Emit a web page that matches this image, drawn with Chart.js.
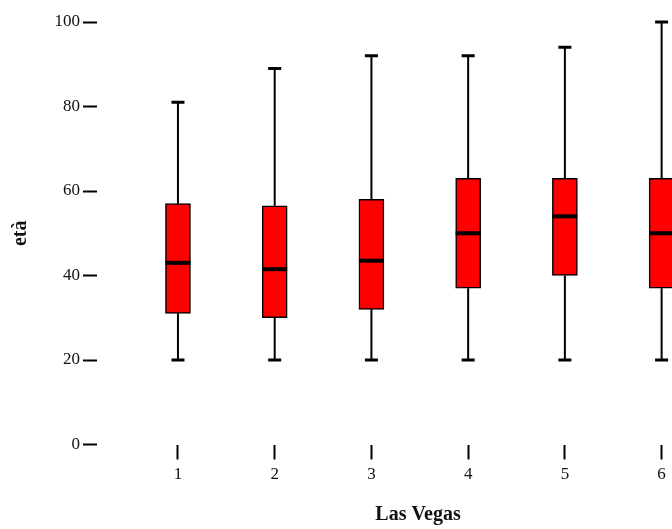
<!DOCTYPE html>
<html>
<head>
<meta charset="utf-8">
<script src="https://cdn.jsdelivr.net/npm/chart.js@4/dist/chart.umd.min.js"></script>
<style>
  html, body { margin: 0; padding: 0; background: #fff; overflow: hidden; }
  #clip { width: 672px; height: 529px; overflow: hidden; }
  #wrap { width: 739px; height: 529px; }
</style>
</head>
<body>
<div id="clip"><div id="wrap"><canvas id="myChart"></canvas></div></div>
<script>
const categories = [1, 2, 3, 4, 5, 6];
const lowWhisker = [20, 20, 20, 20, 20, 20];
const q1 = [31, 30, 32, 37, 40, 37];
const median = [43, 41.5, 43.5, 50, 54, 50];
const q3 = [57, 56.5, 58, 63, 63, 63];
const highWhisker = [81, 89, 92, 92, 94, 100];
const yTicks = [0, 20, 40, 60, 80, 100];

const BOX_W = 25;

// whiskers, caps and median lines drawn on top of the floating bars
const boxWhiskers = {
  id: 'boxWhiskers',
  afterDatasetsDraw(chart) {
    const { ctx, scales: { x, y } } = chart;
    ctx.save();
    ctx.strokeStyle = '#000';
    categories.forEach((c, i) => {
      const px = x.getPixelForValue(c);
      ctx.lineWidth = 2;
      ctx.beginPath();
      ctx.moveTo(px, y.getPixelForValue(q3[i]));
      ctx.lineTo(px, y.getPixelForValue(highWhisker[i]));
      ctx.moveTo(px, y.getPixelForValue(q1[i]));
      ctx.lineTo(px, y.getPixelForValue(lowWhisker[i]));
      ctx.stroke();

      ctx.lineWidth = 3;
      ctx.beginPath();
      [highWhisker[i], lowWhisker[i]].forEach(v => {
        const py = y.getPixelForValue(v);
        ctx.moveTo(px - 6.5, py);
        ctx.lineTo(px + 6.5, py);
      });
      ctx.stroke();

      ctx.lineWidth = 4;
      ctx.beginPath();
      const my = y.getPixelForValue(median[i]);
      ctx.moveTo(px - BOX_W / 2, my);
      ctx.lineTo(px + BOX_W / 2, my);
      ctx.stroke();
    });
    ctx.restore();
  }
};

const ctx = document.getElementById('myChart').getContext('2d');

new Chart(ctx, {
  type: 'bar',
  data: {
    datasets: [{
      data: categories.map((c, i) => ({ x: c, y: [q1[i], q3[i]] })),
      backgroundColor: '#ff0000',
      borderColor: '#000',
      borderWidth: 1.5,
      borderSkipped: false,
      barThickness: BOX_W
    }]
  },
  options: {
    responsive: true,
    maintainAspectRatio: false,
    animation: false,
    layout: { padding: { top: 22, left: 0, right: 0, bottom: 0 } },
    plugins: {
      legend: { display: false },
      tooltip: { enabled: false }
    },
    scales: {
      x: {
        type: 'linear',
        offset: false,
        min: 0.163,
        max: 6.8,
        afterBuildTicks: s => { s.ticks = categories.map(v => ({ value: v })); },
        afterFit: s => { s.height = 84.5; },
        grid: { offset: false, drawOnChartArea: false, drawTicks: true, tickLength: 15, tickWidth: 2, tickColor: '#000' },
        border: { display: false },
        ticks: {
          color: '#111',
          padding: 5,
          font: { family: 'Liberation Serif', size: 17 },
          callback: v => String(v)
        },
        title: {
          display: true,
          text: 'Las Vegas',
          color: '#111',
          font: { family: 'Liberation Serif', size: 20, weight: 'bold' },
          padding: { top: 0, bottom: 2 }
        }
      },
      y: {
        min: 0,
        max: 100,
        afterBuildTicks: s => { s.ticks = yTicks.map(v => ({ value: v })); },
        afterFit: s => { s.width = 97; },
        grid: { drawOnChartArea: false, drawTicks: true, tickLength: 14, tickWidth: 2, tickColor: '#000' },
        border: { display: false },
        ticks: {
          color: '#111',
          padding: 3,
          font: { family: 'Liberation Serif', size: 17 }
        },
        title: {
          display: true,
          text: 'età',
          color: '#111',
          font: { family: 'Liberation Serif', size: 20, weight: 'bold' },
          padding: { top: 9, bottom: 0 }
        }
      }
    }
  },
  plugins: [boxWhiskers]
});
</script>
</body>
</html>
